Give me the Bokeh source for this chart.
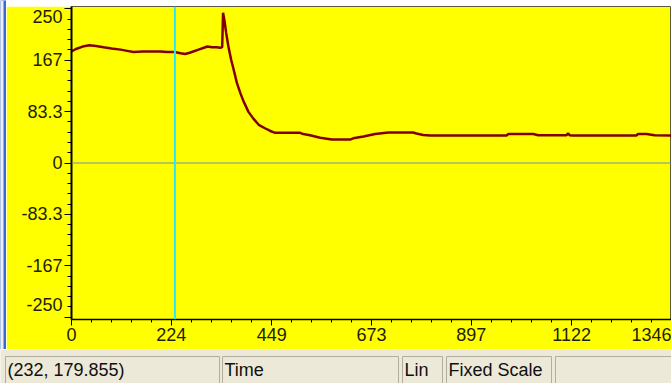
from bokeh.plotting import figure
from bokeh.models import Range1d, FixedTicker, Span
from bokeh.layouts import column, row
from bokeh.embed import file_html
from bokeh.resources import INLINE
from bokeh.core.properties import value

# ---------------- data ----------------
time = [0, 10, 25, 40, 55, 72, 90, 110, 125, 139, 160, 177, 199, 215, 231, 245, 255,
        265, 273, 285, 297, 305, 315, 325, 334, 338, 340, 343, 347, 352, 358, 364,
        371, 379, 386, 397, 408, 420, 435, 446, 457, 480, 500, 513, 520, 535, 558,
        584, 605, 625, 632, 655, 681, 711, 740, 766, 774, 789, 805, 868, 976, 980,
        1036, 1047, 1110, 1114, 1118, 1124, 1267, 1271, 1290, 1308, 1346]
signal = [181, 185, 189, 191, 190, 188, 186, 184, 182, 180, 181, 181, 181, 180, 180,
          178, 177, 179, 181, 184, 187, 189, 188, 188, 187, 188, 244, 232, 211, 189,
          168, 151, 130, 113, 100, 83, 72, 62, 56, 52, 49, 49, 49, 49, 47, 45, 41,
          38, 38, 38, 40, 43, 47, 49.5, 49.5, 49.5, 48, 45.5, 44.6, 44.6, 44.6, 47,
          47, 45, 45, 48, 45, 44.6, 44.6, 47, 47, 45, 44.6]

x_ticks = [0, 224, 449, 673, 897, 1122, 1346]
y_ticks = [-250, -167, -83.3, 0, 83.3, 167, 250]
y_tick_labels = ["-250", "-167", "-83.3", "0", "83.3", "167", "250"]

cursor_x = 232
cursor_y = 179.855
status_texts = [f"({cursor_x}, {cursor_y})", "Time", "Lin", "Fixed Scale", ""]

# ---------------- layout / style ----------------
X_MIN, X_MAX = 0, 1346
Y_MIN, Y_MAX = -254, 254
FONT = "Liberation Sans"
YELLOW = "#FFFF00"
STATUS_BG = "#ECE9D8"
LABEL_COLOR = "#1E1E08"


def minor(ticks, n=5):
    out = []
    for a, b in zip(ticks[:-1], ticks[1:]):
        out += [a + (b - a) * i / n for i in range(1, n)]
    return out


def deco(w, h, fill):
    f = figure(width=w, height=h, x_range=Range1d(0, w), y_range=Range1d(0, h),
               toolbar_location=None, output_backend="svg", min_border=0)
    f.axis.visible = False
    f.xgrid.visible = False
    f.ygrid.visible = False
    f.outline_line_color = None
    f.background_fill_color = fill
    f.border_fill_color = fill
    return f


# left window edge (light strip + blue border line)
edge = deco(6, 349, "#3A6AD0")
edge.quad(left=[0], right=[3], top=[349], bottom=[0], fill_color="#EEEEEE", line_color=None)

# white strip above the plot frame
top = deco(665, 6, YELLOW)
top.quad(left=[65], right=[665], top=[6], bottom=[0], fill_color="white", line_color=None)

# main plot
p = figure(width=665, height=343, x_range=Range1d(X_MIN, X_MAX),
           y_range=Range1d(Y_MIN, Y_MAX), toolbar_location=None,
           output_backend="svg", min_border_left=65, min_border_right=0,
           min_border_top=0, min_border_bottom=30)
p.background_fill_color = YELLOW
p.border_fill_color = YELLOW
p.outline_line_color = "#5A5A40"
p.outline_line_width = 1
p.xgrid.visible = False
p.ygrid.visible = False

p.xaxis.ticker = FixedTicker(ticks=x_ticks, minor_ticks=minor(x_ticks))
p.yaxis.ticker = FixedTicker(ticks=y_ticks, minor_ticks=minor(y_ticks))
yl = list(y_tick_labels)
yl[0] = yl[0] + "\n"   # lift the bottom label a little, as in the original
p.yaxis.major_label_overrides = {v: s for v, s in zip(y_ticks, yl)}

for ax in (p.xaxis[0], p.yaxis[0]):
    ax.axis_line_color = "black"
    ax.major_tick_line_color = "black"
    ax.minor_tick_line_color = "black"
    ax.major_tick_in = 0
    ax.minor_tick_in = 0
    ax.major_label_text_font = FONT
    ax.major_label_text_font_size = "18px"
    ax.major_label_text_color = LABEL_COLOR
    ax.major_label_standoff = 2
p.yaxis.axis_line_width = 2
p.yaxis.major_tick_out = 7
p.yaxis.minor_tick_out = 4
p.xaxis.axis_line_width = 1.5
p.xaxis.major_tick_out = 6
p.xaxis.minor_tick_out = 3

p.add_layout(Span(location=0, dimension="width", line_color="#6A8CB8", line_width=1))
p.add_layout(Span(location=cursor_x, dimension="height", line_color="#2BE7F7", line_width=2))
p.line(time, signal, line_color="#800000", line_width=2.5)

# ---------------- status bar ----------------
s = deco(671, 34, STATUS_BG)
panel_left = [5, 222, 402, 446, 555]
panel_right = [219, 398, 442, 551, 680]
s.quad(left=panel_left, right=panel_right, top=27, bottom=-3,
       fill_color=STATUS_BG, line_color="#B2AE9F", line_width=1)
s.text(x=[l + 2 for l in panel_left], y=[14] * 5, text=status_texts,
       text_font=value(FONT), text_font_size="18px", text_color="#101010",
       text_align="left", text_baseline="middle")

layout = column(row(edge, column(top, p, spacing=0), spacing=0), s, spacing=0)
open("out.html", "w").write(file_html(layout, INLINE))
